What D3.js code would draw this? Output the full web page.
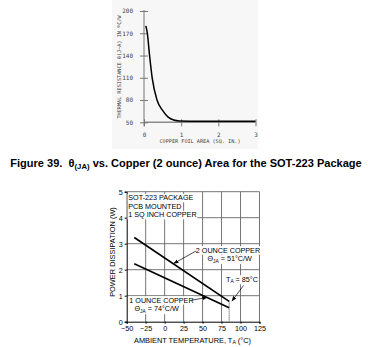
<!DOCTYPE html>
<html><head><meta charset="utf-8">
<script src="https://cdn.jsdelivr.net/npm/d3@7"></script>
<style>body{margin:0;background:#fff}svg{display:block}</style>
</head><body>
<svg id="c" width="368" height="347"></svg>
<script>
// Thermal resistance vs. copper foil area (2 oz copper)
const foilArea = [0.05, 0.09, 0.15, 0.22, 0.35, 0.5, 0.65, 0.8, 0.95, 1.5, 3.0];
const thetaJA  = [180, 170, 140, 110, 80, 66, 57, 53, 51.8, 51.5, 51.5];
const foilTicks = [0, 1, 2, 3];
const thetaTicks = [50, 80, 110, 140, 170, 200];

// Power dissipation derating, 1 sq inch copper
const ambientTemp = [-40, 85];
const pdTwoOunce = [3.24, 0.78];
const pdOneOunce = [2.23, 0.54];
const tempTicks = [-50, -25, 0, 25, 50, 75, 100, 125];
const powerTicks = [0, 1, 2, 3, 4, 5];

const svg = d3.select("#c");
const mono = "'DejaVu Sans Mono', monospace";
const sans = "'Liberation Sans', Arial, sans-serif";
const intFmt = d3.format("d");

/* ---------- upper chart ---------- */
svg.append("rect").attr("x", 112).attr("y", 0).attr("width", 146).attr("height", 149).attr("fill", "#f7f7f7");

const x1 = d3.scaleLinear().domain([0, 3]).range([144, 255.5]);
const y1 = d3.scaleLinear().domain([50, 200]).range([122.3, 11]);

// baseline (gray, heavy)
svg.append("line").attr("x1", x1(0)).attr("x2", x1(3)).attr("y1", y1(50)).attr("y2", y1(50))
  .attr("stroke", "#8a8a8a").attr("stroke-width", 1.6);
// left axis
svg.append("line").attr("x1", x1(0)).attr("x2", x1(0)).attr("y1", y1(200) - 1).attr("y2", y1(50) + 4)
  .attr("stroke", "#777").attr("stroke-width", 1);

const gy1 = svg.append("g").attr("transform", `translate(${x1(0)},0)`)
  .call(d3.axisLeft(y1).tickValues(thetaTicks).tickFormat(intFmt).tickSize(4).tickPadding(7));
gy1.select(".domain").remove();
gy1.selectAll(".tick line").attr("x1", -4).attr("x2", 4).attr("stroke", "#777");
gy1.selectAll(".tick text").attr("font-family", mono).attr("font-size", 6).attr("fill", "#444");

const gx1 = svg.append("g").attr("transform", `translate(0,${y1(50)})`)
  .call(d3.axisBottom(x1).tickValues(foilTicks).tickFormat(intFmt).tickSize(4).tickPadding(6));
gx1.select(".domain").remove();
gx1.selectAll(".tick line").attr("y1", -3).attr("y2", 4).attr("stroke", "#777");
gx1.selectAll(".tick text").attr("font-family", mono).attr("font-size", 6).attr("fill", "#444");

svg.append("text").attr("x", 200).attr("y", 143).attr("text-anchor", "middle")
  .attr("font-family", mono).attr("font-size", 5.2).attr("fill", "#444")
  .text("COPPER FOIL AREA (SQ. IN.)");
svg.append("text").attr("transform", "translate(121,67) rotate(-90)").attr("text-anchor", "middle")
  .attr("font-family", mono).attr("font-size", 5.2).attr("fill", "#444")
  .text("THERMAL RESISTANCE θ(J−A) IN ºC/W");

const curve = d3.line().x(d => x1(d[0])).y(d => y1(d[1])).curve(d3.curveMonotoneX);
svg.append("path").datum(foilArea.map((a, i) => [a, thetaJA[i]]))
  .attr("d", curve).attr("fill", "none").attr("stroke", "#000").attr("stroke-width", 1.5);

/* ---------- caption ---------- */
const cap = svg.append("text").attr("x", 186).attr("y", 166.5).attr("text-anchor", "middle")
  .attr("font-family", sans).attr("font-weight", "bold").attr("font-size", 10).attr("fill", "#000");
cap.append("tspan").text("Figure 39.\u00a0\u00a0θ");
const capSub = cap.append("tspan").attr("font-size", 7).attr("dy", 2.5).text("(JA)");
cap.append("tspan").attr("dy", -2.5).text(" vs. Copper (2 ounce) Area for the SOT-223 Package");
// size the caption to span the page width
const capScale = 352 / cap.node().getComputedTextLength();
cap.attr("font-size", 10 * capScale);
capSub.attr("font-size", 7 * capScale);

/* ---------- lower chart ---------- */
const x2 = d3.scaleLinear().domain([-50, 125]).range([126.7, 259.5]);
const y2 = d3.scaleLinear().domain([0, 5]).range([321.7, 191.7]);

const grid = svg.append("g").attr("stroke", "#666").attr("stroke-width", 0.9);
grid.selectAll(".v").data(tempTicks.slice(1)).join("line")
  .attr("x1", d => x2(d)).attr("x2", d => x2(d)).attr("y1", y2(0)).attr("y2", y2(5));
grid.selectAll(".h").data(powerTicks.slice(1)).join("line")
  .attr("x1", x2(-50)).attr("x2", x2(125)).attr("y1", d => y2(d)).attr("y2", d => y2(d));

const gx2 = svg.append("g").attr("transform", `translate(0,${y2(0)})`)
  .call(d3.axisBottom(x2).tickValues(tempTicks).tickFormat(intFmt).tickSize(2).tickPadding(2.5));
gx2.select(".domain").attr("stroke", "#000");
gx2.selectAll(".tick text").attr("font-family", sans).attr("font-size", 7.2).attr("fill", "#000");
const gy2 = svg.append("g").attr("transform", `translate(${x2(-50)},0)`)
  .call(d3.axisLeft(y2).tickValues(powerTicks).tickFormat(intFmt).tickSize(2).tickPadding(2));
gy2.select(".domain").attr("stroke", "#000");
gy2.selectAll(".tick text").attr("font-family", sans).attr("font-size", 7.2).attr("fill", "#000");

svg.append("text").attr("x", 192.5).attr("y", 342.5).attr("text-anchor", "middle")
  .attr("font-family", sans).attr("font-size", 7.4).attr("fill", "#000")
  .call(t => { t.append("tspan").text("AMBIENT TEMPERATURE, T");
               t.append("tspan").attr("font-size", 5).attr("dy", 1.8).text("A");
               t.append("tspan").attr("dy", -1.8).text(" (°C)"); });
svg.append("text").attr("transform", "translate(115,252) rotate(-90)").attr("text-anchor", "middle")
  .attr("font-family", sans).attr("font-size", 7.4).attr("fill", "#000")
  .text("POWER DISSIPATION (W)");

// 85 °C marker
svg.append("line").attr("x1", x2(85)).attr("x2", x2(85)).attr("y1", y2(pdTwoOunce[1])).attr("y2", y2(0))
  .attr("stroke", "#000").attr("stroke-width", 0.8).attr("stroke-dasharray", "1,1");

// derating lines
const dline = d3.line().x(d => x2(d[0])).y(d => y2(d[1]));
[pdTwoOunce, pdOneOunce].forEach(s => {
  svg.append("path").datum(ambientTemp.map((t, i) => [t, s[i]]))
    .attr("d", dline).attr("fill", "none").attr("stroke", "#000").attr("stroke-width", 1.7);
});

// annotation labels with white backing
function label(x, y, parts) {
  const g = svg.append("g");
  const bg = g.append("rect").attr("fill", "#fff");
  const t = g.append("text").attr("x", x).attr("y", y).attr("font-family", sans)
    .attr("font-size", 7.2).attr("fill", "#000");
  parts.forEach(p => {
    const s = t.append("tspan").text(p.t);
    if (p.sub) s.attr("font-size", 4.8).attr("dy", 1.8);
    if (p.up) s.attr("dy", -1.8);
  });
  const b = t.node().getBBox();
  bg.attr("x", b.x - 0.8).attr("y", b.y + 0.6).attr("width", b.width + 1.6).attr("height", b.height - 0.6);
}
label(128.3, 200.3, [{t: "SOT-223 PACKAGE"}]);
label(128.3, 208.8, [{t: "PCB MOUNTED"}]);
label(128.3, 217.3, [{t: "1 SQ INCH COPPER"}]);
label(195.8, 252.6, [{t: "2 OUNCE COPPER"}]);
label(207.5, 261.3, [{t: "Θ"}, {t: "JA", sub: true}, {t: " = 51°C/W", up: true}]);
label(226, 281.6, [{t: "T"}, {t: "A", sub: true}, {t: " = 85°C", up: true}]);
label(129.3, 302.6, [{t: "1 OUNCE COPPER"}]);
label(134.5, 311.3, [{t: "Θ"}, {t: "JA", sub: true}, {t: " = 74°C/W", up: true}]);

// leader arrows
svg.append("defs").append("marker").attr("id", "ah").attr("viewBox", "0 0 10 10")
  .attr("refX", 10).attr("refY", 5).attr("markerWidth", 5).attr("markerHeight", 5)
  .attr("orient", "auto").attr("markerUnits", "userSpaceOnUse")
  .append("path").attr("d", "M0,1L10,5L0,9Z").attr("fill", "#000");
const arrows = [
  [196, 251, 173.5, 263.6],
  [243.5, 285.5, 231.8, 301.2],
  [191.5, 300.2, 207.3, 297.4]
];
svg.selectAll(".arr").data(arrows).join("line")
  .attr("x1", d => d[0]).attr("y1", d => d[1]).attr("x2", d => d[2]).attr("y2", d => d[3])
  .attr("stroke", "#000").attr("stroke-width", 0.7).attr("marker-end", "url(#ah)");
</script>
</body></html>
